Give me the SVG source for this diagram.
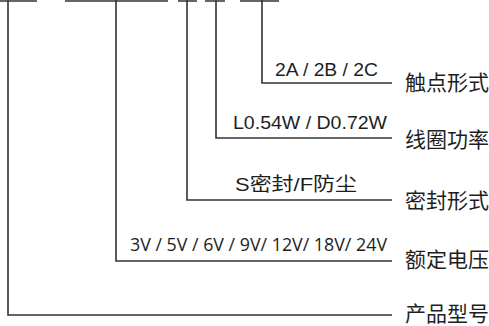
<svg xmlns="http://www.w3.org/2000/svg" width="489" height="326" viewBox="0 0 489 326">
<style>
.ln{stroke:#333;stroke-width:1.6;fill:none}
.v{font-family:"Liberation Sans",Arial,sans-serif;font-size:19px;fill:#1e1e1e}
.o{font-family:"Open Sans","Noto Sans",sans-serif;font-size:17.5px;fill:#1e1e1e}
.c{font-family:"Liberation Sans","Noto Sans CJK SC",sans-serif;font-size:19px;fill:#1e1e1e}
.lb{font-family:"Noto Sans CJK SC",sans-serif;font-size:21px;fill:#1e1e1e}
</style>
<rect width="489" height="326" fill="#fff"/>
<g id="connectors">
<path class="ln" d="M0 1H37M65 1H168M178 1H197M205 1H225M240 1H279"/>
<path class="ln" d="M262 0V83H392"/>
<path class="ln" d="M216 0V138H392"/>
<path class="ln" d="M187 0V200H392"/>
<path class="ln" d="M116 0V261H392"/>
<path class="ln" d="M8 0V315H392"/>
</g>
<g id="contact">
<text class="v" x="275" y="76" textLength="103" lengthAdjust="spacingAndGlyphs">2A / 2B / 2C</text>
<text class="lb" x="405" y="90">触点形式</text>
</g>
<g id="coil">
<text class="v" x="233" y="129" textLength="154" lengthAdjust="spacingAndGlyphs">L0.54W / D0.72W</text>
<text class="lb" x="405" y="147">线圈功率</text>
</g>
<g id="seal">
<text class="c" x="235" y="191" textLength="122" lengthAdjust="spacingAndGlyphs">S密封/F防尘</text>
<text class="lb" x="405" y="208">密封形式</text>
</g>
<g id="voltage">
<text class="o" x="130" y="251" textLength="257" lengthAdjust="spacingAndGlyphs">3V / 5V / 6V / 9V/ 12V/ 18V/ 24V</text>
<text class="lb" x="405" y="267">额定电压</text>
</g>
<g id="model">
<text class="lb" x="405" y="321">产品型号</text>
</g>
</svg>
